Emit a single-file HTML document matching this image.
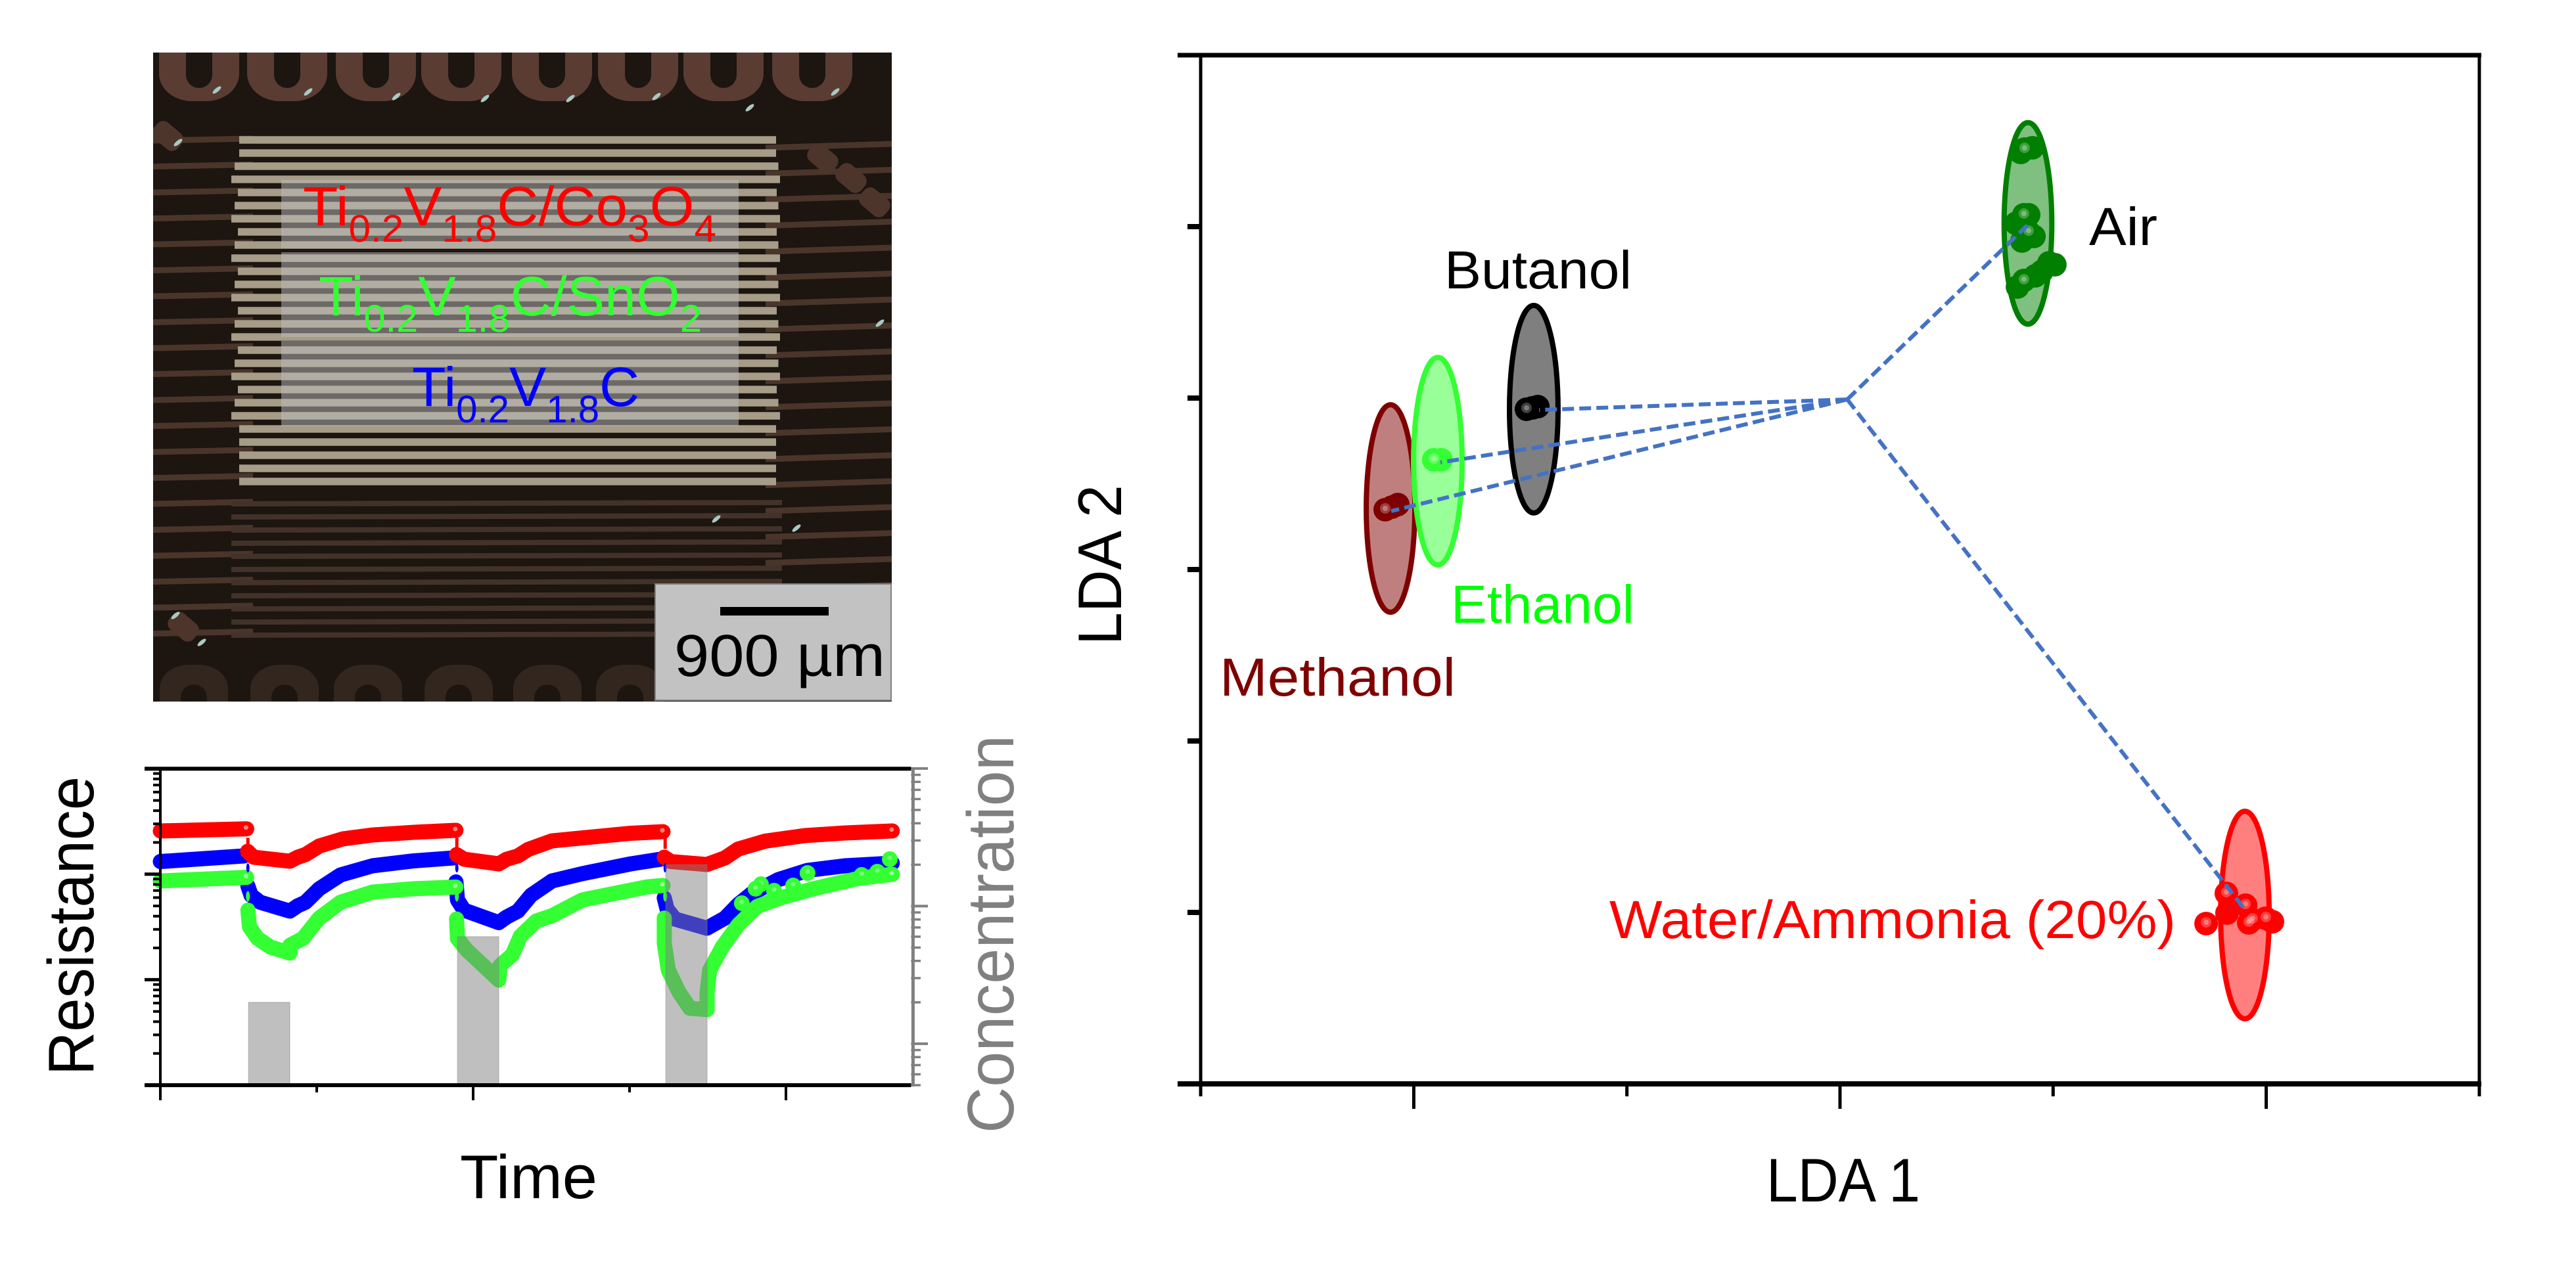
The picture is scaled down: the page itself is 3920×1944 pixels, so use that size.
<!DOCTYPE html>
<html lang="en">
<head>
<meta charset="utf-8">
<title>Sensor array micrograph, resistance transients and LDA plot</title>
<style>
html,body{margin:0;padding:0;background:#fff;}
svg{display:block;}
text{font-family:"Liberation Sans",sans-serif;}
</style>
</head>
<body>
<svg id="figure" xmlns="http://www.w3.org/2000/svg" width="3920" height="1944" viewBox="0 0 3920 1944">
  <defs>
    <clipPath id="photo-clip"><rect x="233" y="80" width="1124" height="988"/></clipPath>
  </defs>
  <rect width="3920" height="1944" fill="#fff"/>

  <g id="photo" clip-path="url(#photo-clip)">
    <rect x="233" y="80" width="1124" height="988" fill="#1c1510"/>
    <g id="photo-traces"></g>
    <g id="photo-pads"></g>
    <g id="photo-stripes"></g>
    <g id="photo-glints"></g>
  </g>
  <rect x="428" y="274" width="696" height="104" fill="#bdbdbd" fill-opacity=".5"/>
  <rect x="428" y="384" width="696" height="129" fill="#bdbdbd" fill-opacity=".5"/>
  <rect x="428" y="519" width="696" height="130" fill="#bdbdbd" fill-opacity=".5"/>

  <text x="461" y="343" font-size="84" fill="#ff0000" textLength="629" lengthAdjust="spacingAndGlyphs">Ti<tspan font-size="58" dy="25">0.2</tspan><tspan dy="-25">V</tspan><tspan font-size="58" dy="25">1.8</tspan><tspan dy="-25">C/Co</tspan><tspan font-size="58" dy="25">3</tspan><tspan dy="-25">O</tspan><tspan font-size="58" dy="25">4</tspan></text>
  <text x="485" y="480" font-size="84" fill="#33ff33" textLength="583" lengthAdjust="spacingAndGlyphs">Ti<tspan font-size="58" dy="25">0.2</tspan><tspan dy="-25">V</tspan><tspan font-size="58" dy="25">1.8</tspan><tspan dy="-25">C/SnO</tspan><tspan font-size="58" dy="25">2</tspan></text>
  <text x="627" y="618" font-size="84" fill="#0000ff" textLength="346" lengthAdjust="spacingAndGlyphs">Ti<tspan font-size="58" dy="25">0.2</tspan><tspan dy="-25">V</tspan><tspan font-size="58" dy="25">1.8</tspan><tspan dy="-25">C</tspan></text>

  <rect x="997" y="889" width="359" height="177" fill="#c2c2c2" stroke="#808080" stroke-width="2"/>
  <rect x="1096" y="924" width="165" height="13" fill="#000"/>
  <text x="1026" y="1029" font-size="90" fill="#000" textLength="321" lengthAdjust="spacingAndGlyphs">900 µm</text>

  <g id="transient-chart"></g>
  <text x="700" y="1824" font-size="94" fill="#000" textLength="209" lengthAdjust="spacingAndGlyphs">Time</text>
  <text transform="translate(142,1637) rotate(-90)" font-size="98" fill="#000" textLength="455" lengthAdjust="spacingAndGlyphs">Resistance</text>
  <text transform="translate(1542,1725) rotate(-90)" font-size="100" fill="#808080" textLength="606" lengthAdjust="spacingAndGlyphs">Concentration</text>

  <g id="lda-chart"></g>
  <text x="2198" y="439" font-size="82" fill="#000" textLength="285" lengthAdjust="spacingAndGlyphs">Butanol</text>
  <text x="3179" y="373" font-size="82" fill="#000" textLength="104" lengthAdjust="spacingAndGlyphs">Air</text>
  <text x="2208" y="948" font-size="82" fill="#00ff00" textLength="279" lengthAdjust="spacingAndGlyphs">Ethanol</text>
  <text x="1856" y="1059" font-size="82" fill="#7f0000" textLength="359" lengthAdjust="spacingAndGlyphs">Methanol</text>
  <text x="2449" y="1428" font-size="82" fill="#ff0000" textLength="862" lengthAdjust="spacingAndGlyphs">Water/Ammonia (20%)</text>
  <text x="2688" y="1829" font-size="94" fill="#000" textLength="234" lengthAdjust="spacingAndGlyphs">LDA 1</text>
  <text transform="translate(1706,982) rotate(-90)" font-size="94" fill="#000" textLength="244" lengthAdjust="spacingAndGlyphs">LDA 2</text>
</svg>

<script>
// ---------- LDA chart data (axis units) ----------
const ldaClusterKeys = ['methanol', 'ethanol', 'butanol', 'air', 'water'];
const ldaStroke = ['#7f0000', '#33ff33', '#000000', '#007f00', '#ff0000'];
const ldaCx = [-2.109, -1.887, -1.437, 0.882, 1.9];
const ldaCy = [0.356, 0.632, 0.935, 2.019, -2.015];
const ldaRx = [0.114, 0.114, 0.114, 0.112, 0.114];
const ldaRy = [0.605, 0.605, 0.605, 0.588, 0.605];

const methanolX = [-2.075, -2.103, -2.134];
const methanolY = [0.379, 0.364, 0.349];
const ethanolX = [-1.872, -1.906];
const ethanolY = [0.64, 0.64];
const butanolX = [-1.418, -1.443, -1.471];
const butanolY = [0.95, 0.943, 0.935];
const airX = [0.903, 0.848, 0.866, 0.826, 0.863, 0.885, 0.854, 0.91, 0.885, 1.008, 0.981, 0.947, 0.916, 0.833, 0.863];
const airY = [2.46, 2.433, 2.452, 2.019, 2.069, 2.069, 1.916, 1.943, 1.969, 1.778, 1.789, 1.739, 1.713, 1.648, 1.686];
const waterX = [2.029, 1.998, 1.936, 1.918, 1.903, 1.816, 1.813, 1.718];
const waterY = [-2.054, -2.034, -2.042, -2.061, -1.958, -2.004, -1.889, -2.065];
const ldaPointX = [methanolX, ethanolX, butanolX, airX, waterX];
const ldaPointY = [methanolY, ethanolY, butanolY, airY, waterY];
const glossyPoints = [[2], [1], [2], [2, 4, 8, 14], [1, 2, 3, 4, 6, 7]];

const hubX = 0.034;
const hubY = 0.992;
const spokeX = [-2.106, -1.875, -1.412, 0.879, 1.896];
const spokeY = [0.341, 0.625, 0.931, 2.008, -1.977];

const ldaXMajor = [-2, 0, 2];
const ldaXMinor = [-3, -1, 1, 3];
const ldaYTicks = [2, 1, 0, -1, -2];

// ---------- Transient chart data ----------
// time in arbitrary units, resistance as log10(R), null separates segments
const redTime = [0, 27.6, null, 27.9, 29.8, 41.4, 43.9, 46.4, 50.8, 58.4, 67.9, 80.9, 94.5, null, 94.7, 97.1, 108.2, 110.7, 114.3, 117.6, 125.2, 150.4, 160.7, null, 161.1, 163.2, 174.7, 180.5, 184.7, 193.3, 206.1, 219, 234];
const redLogR = [2.41, 2.43, null, 2.217, 2.161, 2.123, 2.161, 2.186, 2.267, 2.335, 2.372, 2.397, 2.416, null, 2.186, 2.142, 2.098, 2.142, 2.173, 2.235, 2.316, 2.388, 2.403, null, 2.161, 2.12, 2.092, 2.154, 2.238, 2.313, 2.366, 2.391, 2.41];
const blueTime = [0, 26.7, null, 28, 29, 31.9, 41.4, 43.9, 46.4, 50.8, 57.6, 67.9, 80.9, 93.7, null, 94.5, 95, 97.1, 108.2, 110.7, 114.3, 118.5, 125.2, 134.9, 150.4, 159.9, null, 161.1, 162, 164.5, 174.7, 180.5, 184.7, 189.1, 197.6, 206.9, 219, 234];
const blueLogR = [2.12, 2.173, null, 1.887, 1.8, 1.734, 1.65, 1.7, 1.734, 1.862, 1.993, 2.08, 2.126, 2.154, null, 1.927, 1.756, 1.659, 1.541, 1.594, 1.65, 1.8, 1.936, 2.005, 2.098, 2.142, null, 1.775, 1.669, 1.575, 1.488, 1.584, 1.712, 1.818, 1.949, 2.036, 2.08, 2.105];
const greenTime = [0, 27.6, null, 28, 28.5, 31.1, 35.3, 41.4, 41.4, 45.6, 50.8, 57.6, 67.9, 80.9, 94.5, null, 94.7, 95, 97.9, 108.2, 108.6, 112.6, 115.1, 120.2, 125.2, 134.9, 155.7, 160.7, null, 161.1, 161.1, 162.4, 165.9, 169.3, 174.8, 174.8, 175.6, 179.6, 184.7, 190.8, 198.5, 208.8, 223.3, 234];
const greenLogR = [1.936, 1.97, null, 1.659, 1.501, 1.391, 1.308, 1.252, 1.326, 1.391, 1.584, 1.734, 1.831, 1.862, 1.878, null, 1.575, 1.391, 1.283, 0.996, 1.133, 1.239, 1.413, 1.557, 1.606, 1.756, 1.88, 1.893, null, 1.584, 1.348, 1.09, 0.878, 0.729, 0.716, 0.878, 1.09, 1.308, 1.519, 1.694, 1.777, 1.862, 1.961, 1.999];
const greenBumpTime = [185.9, 192, 190.3, 196.2, 202.3, 206.9, 233.2, 224.2, 229.2];
const greenBumpLogR = [1.725, 1.905, 1.862, 1.843, 1.893, 2.011, 2.142, 1.993, 2.024];
const seriesTime = [blueTime, greenTime, redTime];
const seriesLogR = [blueLogR, greenLogR, redLogR];
const seriesColor = ['#0000ff', '#33ff33', '#ff0000'];
const seriesKey = ['blue', 'green', 'red'];

const pulseStart = [28.2, 95, 161.6];
const pulseEnd = [41.4, 108.2, 174.8];
const pulseConc = [20, 60, 200];

const timeMajor = [0, 100, 200];
const timeMinor = [50, 150];
const resistanceDecades = [1, 10, 100, 1000];
const concentrationMajor = [10, 100, 1000];
const concentrationMinor = [5, 6, 7, 8, 9, 20, 30, 40, 50, 60, 70, 80, 90, 200, 300, 400, 500, 600, 700, 800, 900];
const logMultipliers = [2, 3, 4, 5, 6, 7, 8, 9];

// ---------- helpers ----------
const NS = 'http://www.w3.org/2000/svg';
function make(parent, tag, attrs) {
  const el = document.createElementNS(NS, tag);
  for (const k in attrs) el.setAttribute(k, attrs[k]);
  parent.appendChild(el);
  return el;
}

// ---------- LDA axes ----------
const ldaX = v => 2800 + v * 324.3;
const ldaY = v => 867 - v * 261;
const lda = document.getElementById('lda-chart');

ldaClusterKeys.forEach((key, i) => {
  const e = make(lda, 'ellipse', {cx: ldaX(ldaCx[i]), cy: ldaY(ldaCy[i]), rx: ldaRx[i] * 324.3, ry: ldaRy[i] * 261, fill: ldaStroke[i], 'fill-opacity': .5, stroke: ldaStroke[i], 'stroke-width': 8});
  
  
});
ldaClusterKeys.forEach((key, i) => {
  const xs = ldaPointX[i], ys = ldaPointY[i];
  xs.forEach((x, j) => {
    const p = make(lda, 'circle', {cx: ldaX(x), cy: ldaY(ys[j]), r: 18, fill: ldaStroke[i]});
    
    
  });
  glossyPoints[i].forEach(j => {
    const h = make(lda, 'circle', {cx: ldaX(xs[j]), cy: ldaY(ys[j]) - 2, r: 8, fill: '#fff', 'fill-opacity': .25});
    
    
    const c = make(lda, 'circle', {cx: ldaX(xs[j]), cy: ldaY(ys[j]) - 2, r: 4, fill: '#fff', 'fill-opacity': .3});
    
    
  });
});
ldaClusterKeys.forEach((key, i) => {
  const l = make(lda, 'line', {x1: ldaX(hubX), y1: ldaY(hubY), x2: ldaX(spokeX[i]), y2: ldaY(spokeY[i]), stroke: '#4472c4', 'stroke-width': 6, 'stroke-dasharray': '18 8'});
  
  
});

function ldaFrame(x1, y1, x2, y2, w, name) {
  const l = make(lda, 'line', {x1, y1, x2, y2, stroke: '#000', 'stroke-width': w});
  
  
}
ldaFrame(ldaX(-3), ldaY(3), ldaX(-3), ldaY(-3), 5, 'lda-left-axis');
ldaFrame(ldaX(3), ldaY(3), ldaX(3), ldaY(-3), 5, 'lda-right-axis');
ldaFrame(1792, ldaY(3), ldaX(3) + 3, ldaY(3), 7, 'lda-top-axis');
ldaFrame(1792, ldaY(-3), ldaX(3) + 3, ldaY(-3), 8, 'lda-bottom-axis');
ldaXMajor.forEach(v => ldaFrame(ldaX(v), ldaY(-3), ldaX(v), 1688, 5, 'lda-x-major-tick'));
ldaXMinor.forEach(v => ldaFrame(ldaX(v), ldaY(-3), ldaX(v), 1669, 5, 'lda-x-minor-tick'));
ldaYTicks.forEach(v => ldaFrame(1807, ldaY(v), ldaX(-3), ldaY(v), 8, 'lda-y-tick'));

// ---------- Transient axes ----------
const tX = t => 244 + t * 4.76;
const rY = v => 1652 - v * 160.6;
const cY = c => 1652 - Math.log10(c / 5) * 209.5;
const chart = document.getElementById('transient-chart');

seriesKey.forEach((key, i) => {
  const times = seriesTime[i], vals = seriesLogR[i];
  let seg = [];
  const flush = () => {
    if (!seg.length) return;
    const pl = make(chart, 'polyline', {points: seg.join(' '), fill: 'none', stroke: seriesColor[i], 'stroke-width': 23, 'stroke-linecap': 'round', 'stroke-linejoin': 'round'});
    
    
    const last = seg[seg.length - 1].split(',');
    const hl = make(chart, 'circle', {cx: +last[0] - 1, cy: +last[1] - 2, r: 3.5, fill: '#fff', 'fill-opacity': .5});
    
    
    seg = [];
  };
  times.forEach((t, j) => {
    if (t === null) { flush(); return; }
    seg.push(tX(t) + ',' + rY(vals[j]));
  });
  flush();
});
greenBumpTime.forEach((t, j) => {
  const b = make(chart, 'circle', {cx: tX(t), cy: rY(greenBumpLogR[j]), r: 12, fill: '#33ff33'});
  
  
  const h = make(chart, 'circle', {cx: tX(t), cy: rY(greenBumpLogR[j]) - 2, r: 3.5, fill: '#fff', 'fill-opacity': .35});
  
  
});
pulseStart.forEach((s, i) => {
  const sp = make(chart, 'line', {x1: tX(s) - 1, y1: rY(2.345), x2: tX(s) - 1, y2: rY(2.24), stroke: '#ff0000', 'stroke-width': 5});
  
  
  const bd = make(chart, 'ellipse', {cx: tX(s) - 1, cy: rY(2.06), rx: 2.5, ry: 7, fill: '#0000ff'});
  
  
  const gd = make(chart, 'ellipse', {cx: tX(s) - 1, cy: rY(1.79), rx: 3, ry: 8, fill: '#33ff33'});
  
  
});
pulseStart.forEach((s, i) => {
  const bar = make(chart, 'rect', {x: tX(s), y: cY(pulseConc[i]), width: tX(pulseEnd[i]) - tX(s), height: cY(5) - cY(pulseConc[i]), fill: '#808080', 'fill-opacity': .5, stroke: '#808080', 'stroke-opacity': .35, 'stroke-width': 1.5});
  
  
});

function tick(x1, y1, x2, y2, w, color, name) {
  const l = make(chart, 'line', {x1, y1, x2, y2, stroke: color, 'stroke-width': w});
  
  
}
const leftX = tX(0), rightX = tX(240);
resistanceDecades.forEach((d, i) => {
  const v = Math.log10(d);
  tick(220, rY(v), leftX, rY(v), 5, '#000', 'resistance-major-tick');
  if (i < 3) logMultipliers.forEach(m => tick(233, rY(v + Math.log10(m)), leftX, rY(v + Math.log10(m)), 4, '#000', 'resistance-minor-tick'));
});
concentrationMajor.forEach(c => tick(rightX, cY(c), 1412, cY(c), 4, '#808080', 'concentration-major-tick'));
concentrationMinor.forEach(c => tick(rightX, cY(c), 1401, cY(c), 3.5, '#808080', 'concentration-minor-tick'));
tick(rightX + 3, 1168, rightX + 3, 1654, 5, '#808080', 'concentration-axis-line');
tick(leftX, 1168, leftX, 1675, 4, '#000', 'resistance-axis-line');
tick(220, rY(3), rightX, rY(3), 6, '#000', 'transient-top-axis');
tick(220, rY(0), rightX, rY(0), 6, '#000', 'transient-bottom-axis');
timeMajor.forEach(t => tick(tX(t), 1652, tX(t), 1675, 4, '#000', 'time-major-tick'));
timeMinor.forEach(t => tick(tX(t), 1652, tX(t), 1663, 4, '#000', 'time-minor-tick'));

// ---------- Micrograph decoration ----------
const traces = document.getElementById('photo-traces');
for (let y = 211; y < 1000; y += 39.5) {
  const a = make(traces, 'line', {x1: 233, y1: y + 3, x2: 385, y2: y, stroke: '#4a352b', 'stroke-width': 9});
  
  
  const b = make(traces, 'line', {x1: 1165, y1: y + 14, x2: 1357, y2: y + 8, stroke: '#4a352b', 'stroke-width': 9});
  
  
}
for (let y = 767; y < 980; y += 20) {
  const a = make(traces, 'line', {x1: 352, y1: y, x2: 1190, y2: y - 2, stroke: '#42322a', 'stroke-width': 8});
  
  
}
const pads = document.getElementById('photo-pads');
[303, 437, 572, 702, 840, 971, 1101, 1236].forEach(x => {
  const p = make(pads, 'rect', {x: x - 61, y: 40, width: 122, height: 114, rx: 50, ry: 42, fill: '#5a3c33'});
  
  
  const s = make(pads, 'rect', {x: x - 20, y: 40, width: 40, height: 94, rx: 20, fill: '#1c1510'});
  
  
});
[295, 433, 560, 698, 833, 959].forEach(x => {
  const p = make(pads, 'rect', {x: x - 52, y: 1012, width: 104, height: 90, rx: 44, ry: 36, fill: '#33261f'});
  
  
  const s = make(pads, 'rect', {x: x - 20, y: 1042, width: 40, height: 60, rx: 20, fill: '#1c1510'});
  
  
});
[[255, 207], [1252, 241], [1295, 271], [1331, 308], [279, 954]].forEach(c => {
  const p = make(pads, 'rect', {x: c[0] - 24, y: c[1] - 16, width: 48, height: 32, rx: 12, fill: '#4d352b', transform: `rotate(40 ${c[0]} ${c[1]})`});
  
  
});
const stripes = document.getElementById('photo-stripes');
for (let y = 213; y < 750; y += 20) {
  const inset = (y < 250 || y > 640) ? 14 : 2 + (y % 3) * 5;
  const s = make(stripes, 'line', {x1: 350 + inset, y1: y, x2: 1188 - inset / 2, y2: y, stroke: '#a69c87', 'stroke-width': 11.5});
  
  
}
const glints = document.getElementById('photo-glints');
[[330,137],[469,140],[603,147],[738,150],[868,150],[999,147],[1141,164],[1271,140],[271,217],[267,937],[307,978],[1212,804],[1090,790],[1339,492]].forEach(p => {
  const g = make(glints, 'ellipse', {cx: p[0], cy: p[1], rx: 8, ry: 3, fill: '#a9c9c4', transform: `rotate(-40 ${p[0]} ${p[1]})`});
  
  
});
</script>
</body>
</html>
